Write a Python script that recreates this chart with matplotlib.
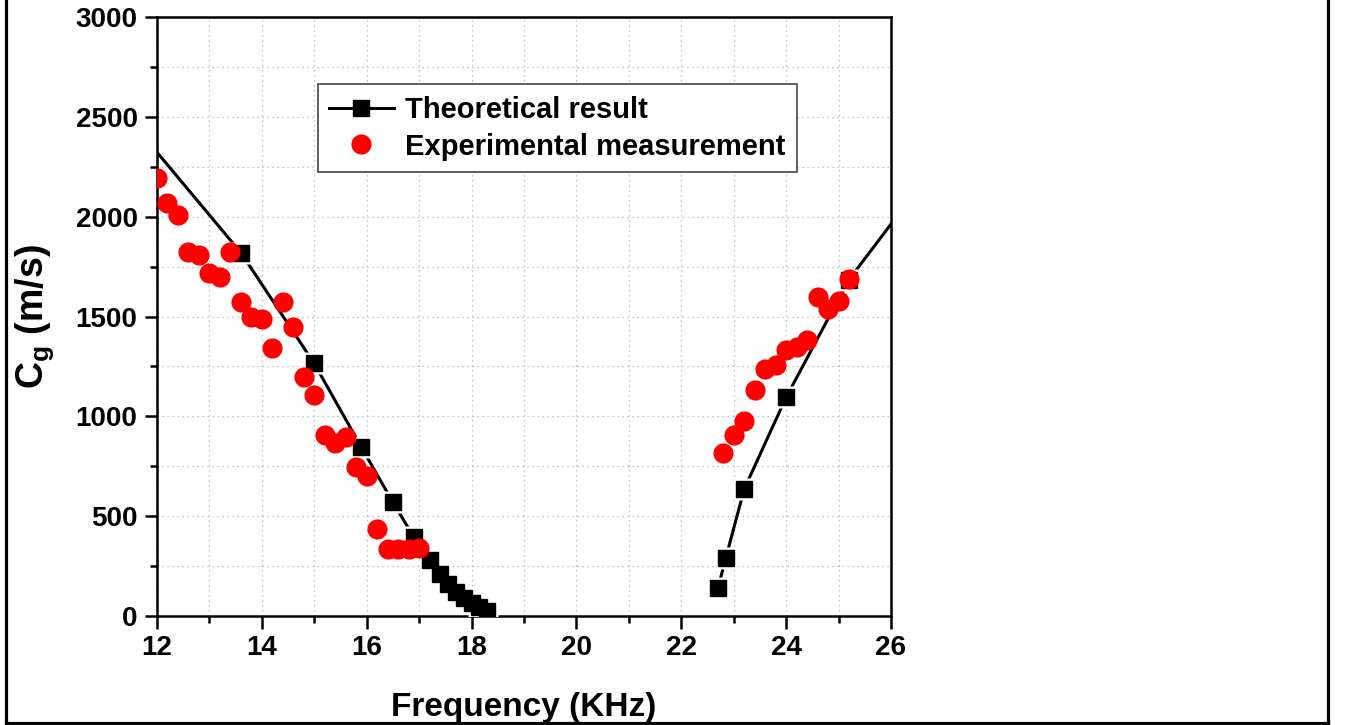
import matplotlib.pyplot as plt
from matplotlib.lines import Line2D
from matplotlib.ticker import MultipleLocator

plt.rcParams['font.family'] = ['Liberation Sans', 'DejaVu Sans']
plt.rcParams['font.weight'] = 'bold'
plt.rcParams['axes.labelweight'] = 'bold'
plt.rcParams['mathtext.fontset'] = 'custom'
plt.rcParams['mathtext.rm'] = 'Liberation Sans:bold'
plt.rcParams['mathtext.it'] = 'Liberation Sans:bold'
plt.rcParams['mathtext.bf'] = 'Liberation Sans:bold'

# theoretical group velocity, two branches (end points lie outside the axes)
theo_f_low = [11.5, 13.6, 15.0, 15.9, 16.5, 16.9, 17.2, 17.4, 17.55, 17.7, 17.85, 18.0, 18.15, 18.3]
theo_cg_low = [2480, 1820, 1265, 845, 570, 395, 280, 210, 160, 120, 90, 65, 45, 25]
theo_f_high = [22.7, 22.85, 23.2, 24.0, 25.2, 26.5]
theo_cg_high = [140, 290, 635, 1095, 1685, 2136]

# experimental measurement
exp_f = [12.0, 12.2, 12.4, 12.6, 12.8, 13.0, 13.2, 13.4, 13.6, 13.8, 14.0, 14.2, 14.4,
         14.6, 14.8, 15.0, 15.2, 15.4, 15.6, 15.8, 16.0, 16.2, 16.4, 16.6, 16.8, 17.0,
         22.8, 23.0, 23.2, 23.4, 23.6, 23.8, 24.0, 24.2, 24.4, 24.6, 24.8, 25.0, 25.2]
exp_cg = [2195, 2070, 2010, 1825, 1810, 1720, 1700, 1825, 1575, 1500, 1490, 1340, 1575,
          1450, 1195, 1108, 905, 865, 898, 745, 700, 437, 338, 335, 335, 342,
          815, 905, 975, 1130, 1235, 1255, 1330, 1345, 1380, 1598, 1540, 1577, 1690]

x_ticks = [12, 14, 16, 18, 20, 22, 24, 26]
y_ticks = [0, 500, 1000, 1500, 2000, 2500, 3000]

fig = plt.figure(figsize=(13.45, 7.25), dpi=100)
ax = fig.add_axes([0.1167, 0.1503, 0.5457, 0.8262])

# line, white gap round the squares, then the squares
ln, = ax.plot(theo_f_low, theo_cg_low, color='black', lw=2.2, zorder=3)
ax.plot(theo_f_high, theo_cg_high, color='black', lw=2.2, zorder=3)
for f, c in [(theo_f_low, theo_cg_low), (theo_f_high, theo_cg_high)]:
    ax.plot(f, c, ls='none', marker='s', ms=16, mfc='white', mec='none', zorder=3.5)
mk, = ax.plot(theo_f_low, theo_cg_low, ls='none', marker='s', ms=11.5,
              mfc='black', mec='black', zorder=4)
ax.plot(theo_f_high, theo_cg_high, ls='none', marker='s', ms=11.5,
        mfc='black', mec='black', zorder=4)
circ, = ax.plot(exp_f, exp_cg, ls='none', marker='o', ms=14.5, mfc='red', mec='none', zorder=5)

ax.set_xlim(12, 26)
ax.set_ylim(0, 3000)
ax.set_xticks(x_ticks)
ax.set_yticks(y_ticks)
ax.xaxis.set_minor_locator(MultipleLocator(1))
ax.yaxis.set_minor_locator(MultipleLocator(250))
ax.tick_params(which='major', direction='out', length=9, width=1.8, labelsize=20, pad=5)
ax.tick_params(which='minor', direction='out', length=5, width=1.8)
for s in ax.spines.values():
    s.set_linewidth(1.8)
ax.grid(which='both', color='#b0b0b0', linestyle=(0, (1, 3)), linewidth=0.9)
ax.set_axisbelow(True)

ax.set_xlabel('Frequency (KHz)', fontsize=24, fontweight='bold', labelpad=22)
ax.set_ylabel(r'C$_{\mathrm{g}}$ (m/s)', fontsize=27, fontweight='bold', labelpad=14)

leg = ax.legend([(ln, mk), circ], ['Theoretical result', 'Experimental measurement'],
                loc='upper left', bbox_to_anchor=(0.219, 0.888), borderaxespad=0,
                fontsize=21, handlelength=2.2, handletextpad=0.4, borderpad=0.4,
                labelspacing=0.3, fancybox=False, framealpha=1, edgecolor='#444444')
leg.get_frame().set_linewidth(1.2)

# outer frame of the picture (no top edge)
lw_b = 2.3
fx0, fx1, fy0 = 5.5 / 1345, 1328 / 1345, 1 - 723 / 725
fig.add_artist(Line2D([fx0, fx0], [fy0, 1], color='black', lw=lw_b))
fig.add_artist(Line2D([fx1, fx1], [fy0, 1], color='black', lw=lw_b))
fig.add_artist(Line2D([fx0, fx1], [fy0, fy0], color='black', lw=lw_b))

plt.savefig('out.png', dpi=100)
